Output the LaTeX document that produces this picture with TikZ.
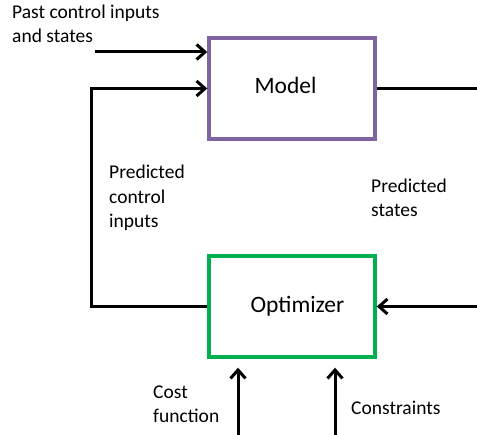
\documentclass[tikz,border=0pt]{standalone}
\usepackage{fontspec}
\setmainfont{Carlito}
\usetikzlibrary{arrows.meta}
\definecolor{mpurple}{HTML}{8064A2}
\definecolor{mgreen}{HTML}{00B050}
\begin{document}
\begin{tikzpicture}[x=1pt,y=1pt,
  box/.style={draw,line width=3.4pt,minimum width=166pt,minimum height=101pt,inner sep=0pt},
  lbl/.style={font=\fontsize{19.5}{24.5}\selectfont,align=left,anchor=base west,inner sep=0pt},
  btxt/.style={font=\fontsize{23.5}{28}\selectfont,anchor=base,inner sep=0pt},
  conn/.style={line width=3pt},
  arr/.style={conn,-{Straight Barb[length=8.5pt,width=15pt,line width=3pt]}}]
\useasboundingbox (0,0) rectangle (477,-435);
\node[box,draw=mpurple] (model) at (292,-88.5) {};
\node[box,draw=mgreen] (opt) at (292,-306.5) {};
\node[btxt] (modeltxt) at (285.5,-94) {Model};
\node[btxt] (opttxt) at (297.5,-313) {Optimizer};
\node[lbl] (past) at (12,-43) {Past control inputs\\and states};
\node[lbl] (pci) at (109,-228) {Predicted\\control\\inputs};
\node[lbl] (ps) at (371,-217) {Predicted\\states};
\node[lbl] (cost) at (153,-423) {Cost\\function};
\node[lbl] (cons) at (351,-415) {Constraints};
\coordinate (pastin) at (95,-52);
\coordinate (loop) at (91,-306.5);
\coordinate (rout) at (477,-88.5);
\coordinate (rin) at (477,-306.5);
\coordinate (c1) at (238,-435);
\coordinate (c2) at (335,-435);
\draw[arr] (pastin) -- (pastin -| model.west);
\draw[arr] (opt.west) -- (loop) |- (model.west);
\draw[conn] (model.east) -- (rout);
\draw[arr] (rin) -- (opt.east);
\draw[arr] (c1) -- ([yshift=-9pt]c1 |- opt.south);
\draw[arr] (c2) -- ([yshift=-9pt]c2 |- opt.south);
\end{tikzpicture}
\end{document}
